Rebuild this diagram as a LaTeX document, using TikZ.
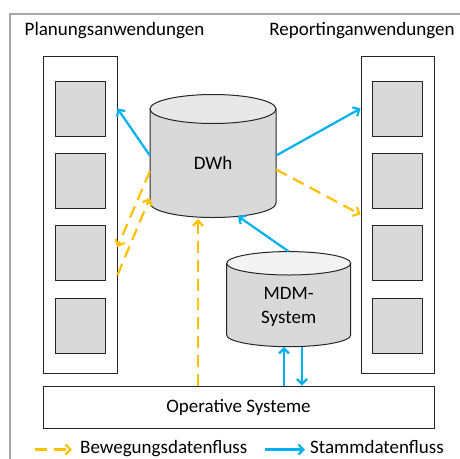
\documentclass[tikz,border=0pt]{standalone}
\usepackage{fontspec}
\setmainfont{Carlito}
\usetikzlibrary{arrows.meta, calc, positioning}
\definecolor{gelb}{RGB}{255,192,0}
\definecolor{blau}{RGB}{0,176,240}
\definecolor{grauFach}{RGB}{217,217,217}
\definecolor{grauDeckel}{RGB}{232,232,232}
\definecolor{grauHell}{RGB}{243,243,243}
\definecolor{rahmenGrau}{RGB}{166,166,166}
% Zylinder: x, y oben, y unten, x-Radius, y-Radius, Mantel, Deckel
\newcommand{\zylinder}[7]{
\filldraw[fill=#6, draw=black!85, line width=1pt] ({#1-#4},#2) -- ({#1-#4},#3)
    arc[start angle=180, end angle=360, x radius=#4pt, y radius=#5pt] -- ({#1+#4},#2) -- cycle;
\filldraw[fill=#7, draw=black!85, line width=1pt] (#1,#2) ellipse [x radius=#4pt, y radius=#5pt];
}
\tikzset{
  rahmen/.style = {draw=rahmenGrau, line width=1.5pt},
  schrift/.style = {font=\fontsize{19}{23.3}\selectfont},
  titel/.style = {schrift, inner sep=0pt},
  saeule/.style = {schrift, draw=black!85, line width=1pt, fill=white, inner sep=0pt},
  fach/.style = {draw=black!85, line width=1pt, fill=grauFach, inner sep=0pt,
                 minimum width=50pt, minimum height=55pt},
  dbtext/.style = {schrift, inner sep=0pt, align=center},
  stamm/.style = {draw=blau, line width=2.2pt, ->},
  bewegung/.style = {draw=gelb, line width=2.2pt, dash pattern=on 12pt off 7pt, ->},
  legende/.style = {schrift, inner sep=0pt, anchor=base west}
}

\begin{document}
\begin{tikzpicture}[x=1pt, y=-1pt, >={Straight Barb[length=5pt,width=10pt]}]
    \useasboundingbox (0,0) rectangle (460,458);
    % Rahmen
    \draw[rahmen] (10,459) -- (10,14) -- (461,14);
    % Ueberschriften
    \node[titel] (planTitel) at (114.5,31) {Planungsanwendungen};
    \node[titel] (repTitel) at (362,31) {Reportinganwendungen};
    % Saeulen mit Faechern
    \node[saeule, minimum width=74pt, minimum height=317pt] (planSaeule) at (80,214.5) {};
    \node[saeule, minimum width=73pt, minimum height=317pt] (repSaeule) at (397.5,214.5) {};
    \foreach \i/\y in {1/108.5, 2/180.5, 3/252.5, 4/325.5}{
        \node[fach] (pl\i) at (80,\y) {};
        \node[fach] (rp\i) at (397.5,\y) {};
    }
    % Operative Systeme
    \node[saeule, minimum width=391pt, minimum height=42pt] (ops) at (238.5,407) {Operative Systeme};
    % DWh
    \zylinder{213}{109}{203}{63}{14.5}{grauFach}{grauDeckel}
    \node[dbtext, minimum width=126pt, minimum height=123pt,
          text height=27pt, text depth=0pt] (dwh) at (213,155.5) {DWh};
    % MDM-System
    \zylinder{288.7}{263.3}{335}{62}{11.7}{grauFach}{grauHell}
    \node[dbtext, minimum width=124pt, minimum height=95pt,
          text height=48pt, text depth=0pt] (mdm) at (288.7,299.2) {MDM-\\System};
    % Stammdatenfluss
    \draw[stamm] (dwh.west) -- (pl1 -| planSaeule.east);
    \draw[stamm] (dwh.east) -- (rp1 -| repSaeule.west);
    \draw[stamm] (mdm.north) -- ($(dwh.south)+(25,-1)$);
    \coordinate (mdmAuf) at ($(mdm.south)+(-4.7,0)$);
    \coordinate (mdmAb) at ($(mdm.south)+(13.3,0)$);
    \draw[stamm] (mdmAuf |- ops.north) -- (mdmAuf);
    \draw[stamm] (mdmAb) -- (mdmAb |- ops.north);
    % Bewegungsdatenfluss
    \draw[bewegung] ($(dwh.east)+(0,14)$) -- (repSaeule.west);
    \coordinate (dwhUnten) at ($(dwh.south)+(-15,2)$);
    \draw[bewegung] (dwhUnten |- ops.north) -- (dwhUnten);
    \draw[bewegung] ($(dwh.west)+(0,16)$) -- ($(planSaeule.east)+(0,32.5)$);
    \draw[bewegung] ($(planSaeule.east)+(0,60.5)$) -- ($(dwh.west)+(0,42.5)$);
    % Legende
    \node[legende] (legBew) at (80,453.5) {Bewegungsdatenfluss};
    \node[legende] (legStamm) at (310,453.5) {Stammdatenfluss};
    \coordinate (legBewStart) at (35,449.5);
    \coordinate (legStammStart) at (265,449.5);
    \draw[bewegung] (legBewStart) -- ($(legBewStart -| legBew.west)+(-8,0)$);
    \draw[stamm] (legStammStart) -- ($(legStammStart -| legStamm.west)+(-5,0)$);
\end{tikzpicture}
\end{document}
